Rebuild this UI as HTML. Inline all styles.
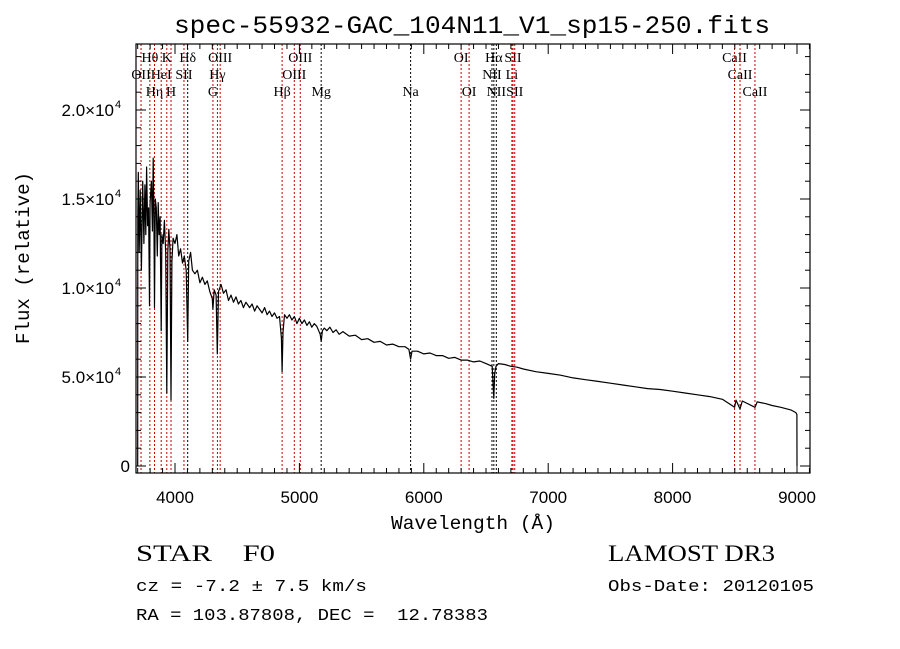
<!DOCTYPE html>
<html><head><meta charset="utf-8"><style>
html,body{margin:0;padding:0;background:#fff;width:900px;height:649px;overflow:hidden}
svg text{font-family:"Liberation Sans",sans-serif;fill:#000;white-space:pre}
</style></head><body>
<svg id="chart" width="900" height="649" viewBox="0 0 900 649" xmlns="http://www.w3.org/2000/svg">
<rect x="0" y="0" width="900" height="649" fill="#fff"/>
<text x="472" y="33" font-size="25" text-anchor="middle" textLength="596" lengthAdjust="spacingAndGlyphs" style="font-family:'Liberation Mono',monospace">spec-55932-GAC_104N11_V1_sp15-250.fits</text>
<g id="lines"></g>
<g id="spec"></g>
<rect x="136" y="44" width="674" height="429" fill="none" stroke="#000" stroke-width="1.2"/>
<g id="axes"></g>
<text x="473" y="529" font-size="19" text-anchor="middle" textLength="164" lengthAdjust="spacingAndGlyphs" style="font-family:'Liberation Mono',monospace">Wavelength (Å)</text>
<text transform="translate(29,258) rotate(-90)" font-size="19" text-anchor="middle" textLength="172" lengthAdjust="spacingAndGlyphs" style="font-family:'Liberation Mono',monospace">Flux (relative)</text>
<text x="136" y="561" font-size="23" textLength="139" lengthAdjust="spacingAndGlyphs" style="font-family:'Liberation Serif',serif">STAR    F0</text>
<text x="136" y="591" font-size="17" textLength="231" lengthAdjust="spacingAndGlyphs" style="font-family:'Liberation Mono',monospace">cz = -7.2 ± 7.5 km/s</text>
<text x="136" y="620" font-size="17" textLength="352" lengthAdjust="spacingAndGlyphs" style="font-family:'Liberation Mono',monospace">RA = 103.87808, DEC =  12.78383</text>
<text x="608" y="561" font-size="23" textLength="167" lengthAdjust="spacingAndGlyphs" style="font-family:'Liberation Serif',serif">LAMOST DR3</text>
<text x="608" y="591" font-size="17" textLength="206" lengthAdjust="spacingAndGlyphs" style="font-family:'Liberation Mono',monospace">Obs-Date: 20120105</text>
</svg>
<script>
const specWave=[3700,3701,3705,3712,3720,3730,3740,3750,3758,3765,3772,3780,3788,3795,3800,3810,3818,3825,3830,3835,3842,3850,3858,3865,3872,3880,3889,3895,3905,3915,3925,3934,3942,3950,3960,3968,3975,3985,4000,4015,4030,4045,4060,4075,4090,4102,4110,4125,4140,4160,4180,4200,4220,4240,4260,4280,4300,4305,4315,4330,4340,4350,4370,4390,4410,4430,4450,4470,4490,4510,4530,4550,4570,4600,4620,4640,4660,4680,4700,4720,4740,4760,4780,4800,4820,4840,4855,4861,4868,4880,4900,4920,4940,4960,4980,5000,5020,5040,5060,5080,5100,5120,5140,5167,5175,5185,5200,5220,5245,5270,5295,5320,5350,5400,5450,5500,5550,5600,5650,5700,5750,5800,5850,5880,5894,5905,5950,6000,6050,6100,6150,6200,6250,6300,6350,6400,6450,6500,6550,6563,6570,6580,6600,6650,6700,6750,6800,6900,7000,7100,7200,7300,7400,7500,7600,7700,7800,7900,8000,8100,8200,8300,8400,8498,8510,8542,8560,8662,8680,8750,8800,8870,8950,8990,8999,9000];
const specFlux=[0,14000,16500,12000,15500,11000,16000,12500,15800,13000,16800,13500,14500,9000,14800,16000,13200,17300,14000,8900,15000,14500,11800,14800,13000,14000,7600,13000,12500,13800,12000,4100,12000,13300,12200,3700,11500,12800,12500,13000,11800,12200,11400,11800,11000,7000,11500,12000,11000,10800,11000,10300,10600,10200,10400,9800,9400,8800,9900,9600,6300,9800,10200,9700,9900,9300,9600,9200,9500,9100,9300,8900,9200,8900,9100,8700,9000,8800,8600,8900,8500,8700,8400,8600,8300,8400,7200,5300,7500,8500,8300,8500,8200,8400,8000,8300,8000,8200,7900,8100,7800,8000,7850,7400,7000,7600,7750,7600,7800,7500,7650,7400,7550,7300,7350,7100,7150,6950,7000,6800,6850,6700,6700,6550,6000,6450,6450,6300,6350,6200,6200,6050,6100,5950,5950,5850,5900,5750,5600,3800,5200,5600,5750,5700,5600,5550,5450,5300,5200,5100,4950,4850,4750,4650,4550,4450,4350,4300,4200,4100,4000,3900,3750,3300,3700,3200,3650,3300,3600,3500,3400,3300,3150,3000,2900,0];
const lineNames=["OII","Hθ","Hη","HeI","K","H","SII","Hδ","G","Hγ","OIII","Hβ","OIII","OIII","Mg","Na","OI","OI","NII","Hα","NII","Li","SII","SII","CaII","CaII","CaII"];
const lineWave=[3727,3798,3835,3889,3934,3968,4072,4102,4305,4341,4363,4861,4959,5007,5175,5894,6300,6364,6548,6563,6583,6708,6717,6731,8498,8542,8662];
const lineRow=[1,0,2,1,0,2,1,0,2,1,0,2,1,0,2,2,0,2,1,0,2,1,0,2,0,1,2];
const lineRed=[1,1,1,1,1,1,1,0,1,1,1,1,1,1,0,0,1,1,0,0,0,1,1,1,1,1,1];
const xTicks=[4000,5000,6000,7000,8000,9000];
const yTicks=[0,5000,10000,15000,20000];
const yTickLabels=["0","5.0×10","1.0×10","1.5×10","2.0×10"];

const NS="http://www.w3.org/2000/svg";
const L=136,R=810,T=44,B=473;
function xs(w){return 175+(w-4000)*0.1244;}
function ys(f){return 466-f*0.0178;}
function mk(tag,attrs,parent){const e=document.createElementNS(NS,tag);for(const k in attrs)e.setAttribute(k,attrs[k]);parent.appendChild(e);return e;}

const gl=document.getElementById('lines');
lineWave.forEach((w,i)=>{
  const x=xs(w);
  const ln=mk('line',{x1:x,x2:x,y1:T,y2:B,stroke:lineRed[i]?'#c00000':'#000','stroke-width':1,'stroke-dasharray':'2,2'},gl);
  
  
  const t=mk('text',{x:x,y:62+lineRow[i]*17,'font-size':14,'text-anchor':'middle',style:"font-family:'Liberation Serif',serif"},gl);
  t.textContent=lineNames[i];
  
  
});

const gs=document.getElementById('spec');
let d='';
specWave.forEach((w,i)=>{d+=(i?'L':'M')+xs(w).toFixed(1)+','+ys(specFlux[i]).toFixed(1);});
const p=mk('path',{d:d,fill:'none',stroke:'#000','stroke-width':1.2,'stroke-linejoin':'round'},gs);



const ga=document.getElementById('axes');
for(let w=3700;w<=9100;w+=100){
  const x=xs(w); if(x<L||x>R)continue;
  const len=(w%1000===0)?10:5;
  mk('line',{x1:x,x2:x,y1:B,y2:B-len,stroke:'#000'},ga);
  mk('line',{x1:x,x2:x,y1:T,y2:T+len,stroke:'#000'},ga);
}
xTicks.forEach(w=>{
  const t=mk('text',{x:xs(w),y:503,'font-size':17,'text-anchor':'middle'},ga);
  t.textContent=w;
  
  
});
for(let f=0;f<=23000;f+=1000){
  const y=ys(f);
  const len=(f%5000===0)?10:5;
  mk('line',{x1:L,x2:L+len,y1:y,y2:y,stroke:'#000'},ga);
  mk('line',{x1:R,x2:R-len,y1:y,y2:y,stroke:'#000'},ga);
}
yTicks.forEach((f,i)=>{
  const y=ys(f)+6;
  const t=mk('text',{x:i?114:130,y:y,'font-size':17,'text-anchor':'end'},ga);
  t.textContent=yTickLabels[i];
  
  
  if(i){
    const s=mk('text',{x:115,y:y-8,'font-size':11},ga);
    s.textContent='4';
    
    
  }
});
</script>
</body></html>
